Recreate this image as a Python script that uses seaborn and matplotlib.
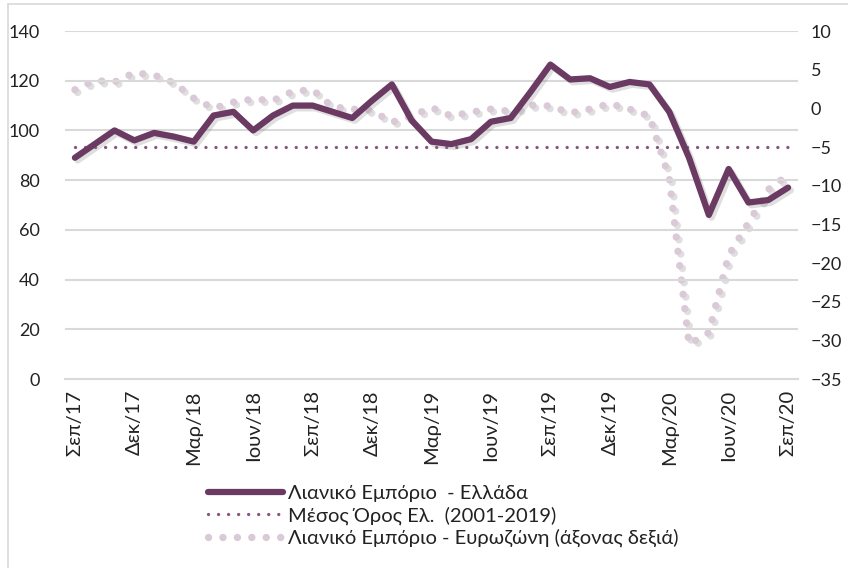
"""
Retail trade: Greece vs Eurozone (Sep/17 - Sep/20)
"""

import numpy as np
import pandas as pd
import matplotlib
matplotlib.use("Agg")
import matplotlib.pyplot as plt
import matplotlib.patheffects as pe
from matplotlib.lines import Line2D
import seaborn as sns

# --- Data ---
months = ['Σεπ/17', 'Οκτ/17', 'Νοε/17', 'Δεκ/17', 'Ιαν/18', 'Φεβ/18',
          'Μαρ/18', 'Απρ/18', 'Μαϊ/18', 'Ιουν/18', 'Ιουλ/18', 'Αυγ/18',
          'Σεπ/18', 'Οκτ/18', 'Νοε/18', 'Δεκ/18', 'Ιαν/19', 'Φεβ/19',
          'Μαρ/19', 'Απρ/19', 'Μαϊ/19', 'Ιουν/19', 'Ιουλ/19', 'Αυγ/19',
          'Σεπ/19', 'Οκτ/19', 'Νοε/19', 'Δεκ/19', 'Ιαν/20', 'Φεβ/20',
          'Μαρ/20', 'Απρ/20', 'Μαϊ/20', 'Ιουν/20', 'Ιουλ/20', 'Αυγ/20',
          'Σεπ/20']
greece = [89, 94.5, 100, 96, 99, 97.5, 95.5, 106, 107.5, 100, 106, 110,
          110, 107.5, 105, 112, 118.5, 104, 95.5, 94.5, 96.5, 103.5, 105, 115.5,
          126.5, 120.5, 121, 117.5, 119.5, 118.5, 107.5, 89, 66, 84.5, 71, 72,
          77]
greece_avg = 93.5
eurozone = [2.4, 3.6, 3.4, 4.6, 4.3, 3.3, 1.3, 0.0, 0.8, 1.2, 1.0, 2.2,
            2.4, 0.2, -0.1, -0.3, -1.8, -1.0, 0.1, -1.0, -0.5, -0.1, -0.4, 0.4,
            0.3, -0.6, -0.1, 0.6, -0.1, -1.0, -9.0, -30.5, -29.0, -19.0, -14.8,
            -10.5, -8.6]

labels = ['Λιανικό Εμπόριο  - Ελλάδα',
          'Μέσος Όρος Ελ.  (2001-2019)',
          'Λιανικό Εμπόριο - Ευρωζώνη (άξονας δεξιά)']

df = pd.DataFrame({'pos': np.arange(len(months)), 'month': months,
                   'greece': greece, 'avg': greece_avg, 'eurozone': eurozone})

# --- Style ---
sns.set_theme(style="white")
plt.rcParams['font.family'] = ['Lato', 'Noto Sans', 'DejaVu Sans']

DARK = '#6B3A63'
MID = '#85577E'
LIGHT = '#DACAD7'
GRID = '#D9D9D9'

fig = plt.figure(figsize=(8.48, 5.68), dpi=100)
ax = fig.add_axes([65 / 848, 1 - 379 / 568, 733 / 848, 348 / 568])
ax2 = ax.twinx()

shadow = [pe.SimpleLineShadow(offset=(2, -2), shadow_color='gray', alpha=0.25), pe.Normal()]

# eurozone (right axis), drawn behind the greek line
sns.lineplot(data=df, x='pos', y='eurozone', ax=ax2, color=LIGHT, linewidth=5.3,
             linestyle=(0, (0.01, 1.95)), solid_capstyle='round', dash_capstyle='round',
             path_effects=shadow, legend=False)
sns.lineplot(data=df, x='pos', y='avg', ax=ax, color=MID, linewidth=2.4,
             linestyle=(0, (0.01, 3.0)), dash_capstyle='round', legend=False)
sns.lineplot(data=df, x='pos', y='greece', ax=ax, color=DARK, linewidth=4.5,
             solid_joinstyle='round', solid_capstyle='round',
             path_effects=shadow, legend=False)

# put the left axis (with greek series) on top of the right one
ax.set_zorder(ax2.get_zorder() + 1)
ax.patch.set_visible(False)

# --- Axes ---
ax.set_xlim(-0.5, len(months) - 0.5)
ax.set_ylim(0, 140)
ax.set_yticks(np.arange(0, 141, 20))
ax2.set_ylim(-35, 10)
ax2.set_yticks(np.arange(-35, 11, 5))

ax.set_xticks(df['pos'][::3])
ax.set_xticklabels(df['month'][::3], rotation=90, fontsize=14.5, color='#222222')
ax.set_xticks(np.arange(-0.5, len(months) - 1, 3), minor=True)
ax.tick_params(axis='x', which='major', length=0, pad=8)
ax.tick_params(axis='x', which='minor', length=6, width=1.2, color=GRID, direction='out')
ax.tick_params(axis='y', length=0, pad=18, labelsize=13, labelcolor='#222222')
ax2.tick_params(axis='y', length=0, pad=9, labelsize=13, labelcolor='#222222')
for lab in ax.get_yticklabels():
    lab.set_horizontalalignment('right')

ax.set_xlabel('')
ax.set_ylabel('')
ax2.set_ylabel('')
ax.yaxis.grid(True, color=GRID, linewidth=1.5)
ax.set_axisbelow(True)
for a in (ax, ax2):
    for side in ('top', 'left', 'right', 'bottom'):
        a.spines[side].set_visible(False)
ax.spines['bottom'].set_visible(True)
ax.spines['bottom'].set_color(GRID)
ax.spines['bottom'].set_linewidth(1.5)

# --- Legend ---
handles = [
    Line2D([], [], color=DARK, linewidth=4.5, solid_capstyle='round'),
    Line2D([], [], color=MID, linewidth=2.4, linestyle=(0, (0.01, 3.0)), dash_capstyle='round'),
    Line2D([], [], color=LIGHT, linewidth=5.3, linestyle=(0, (0.01, 1.95)), dash_capstyle='round'),
]
fig.legend(handles, labels, loc='upper left', bbox_to_anchor=(190 / 848, 1 - 467 / 568),
           frameon=False, fontsize=14.5, handlelength=3.7, handletextpad=0.25,
           labelspacing=0.2, labelcolor='#222222')

# chart area border (top and left edges only)
fig.add_artist(Line2D([8 / 848, 8 / 848], [0, 1 - 4 / 568], color=GRID, linewidth=1.2,
                      transform=fig.transFigure))
fig.add_artist(Line2D([8 / 848, 1], [1 - 4 / 568, 1 - 4 / 568], color=GRID, linewidth=1.2,
                      transform=fig.transFigure))

fig.savefig('out.png', dpi=100)
